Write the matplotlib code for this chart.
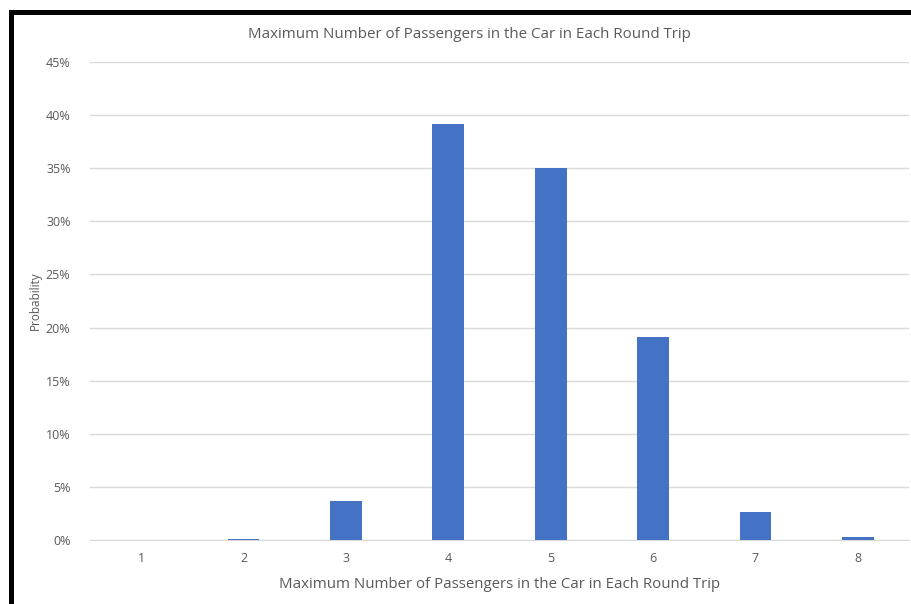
import matplotlib
matplotlib.use('Agg')
import matplotlib.pyplot as plt
from matplotlib.patches import Rectangle
from matplotlib.ticker import PercentFormatter, MultipleLocator

passengers = ['1', '2', '3', '4', '5', '6', '7', '8']
probability = [0.0, 0.001, 0.037, 0.392, 0.350, 0.191, 0.026, 0.003]

GRAY_TXT = '#595959'
GRID = '#d9d9d9'
BAR = '#4472c4'
plt.rcParams['font.family'] = ['Open Sans', 'DejaVu Sans']

fig = plt.figure(figsize=(9.12, 6.04), dpi=100)
fig.patch.set_facecolor('white')
ax = fig.add_axes([90/912, 1 - 540/604, 819/912, 478/604])

x = range(len(passengers))
ax.bar(x, probability, width=0.31, color=BAR, zorder=3)

ax.set_xlim(-0.5, len(passengers) - 0.5)
ax.set_ylim(0, 0.45)
ax.yaxis.set_major_locator(MultipleLocator(0.05))
ax.yaxis.set_major_formatter(PercentFormatter(1.0, decimals=0))
ax.set_xticks(list(x))
ax.set_xticklabels(passengers)
ax.grid(axis='y', color=GRID, linewidth=1, zorder=0)
for s in ['top', 'right', 'left']:
    ax.spines[s].set_visible(False)
ax.spines['bottom'].set_color(GRID)
ax.tick_params(axis='both', length=0, labelsize=9, labelcolor=GRAY_TXT)
ax.tick_params(axis='y', pad=14)
ax.tick_params(axis='x', pad=9)

ax.set_xlabel('Maximum Number of Passengers in the Car in Each Round Trip',
              fontsize=10.8, color=GRAY_TXT, labelpad=8)
ax.set_ylabel('Probability', fontsize=8.5, color=GRAY_TXT, labelpad=3)
fig.text(469/912, 1 - 34/604, 'Maximum Number of Passengers in the Car in Each Round Trip',
         ha='center', va='center', fontsize=10.9, color=GRAY_TXT)

# dark frame along the top and left edges
fig.patches.append(Rectangle((9/912, 0), 5/912, 1 - 10/604, transform=fig.transFigure,
                             facecolor='black', edgecolor='none', zorder=10))
fig.patches.append(Rectangle((9/912, 1 - 15/604), 1, 5/604, transform=fig.transFigure,
                             facecolor='black', edgecolor='none', zorder=10))

fig.savefig('out.png', dpi=100, facecolor='white')
